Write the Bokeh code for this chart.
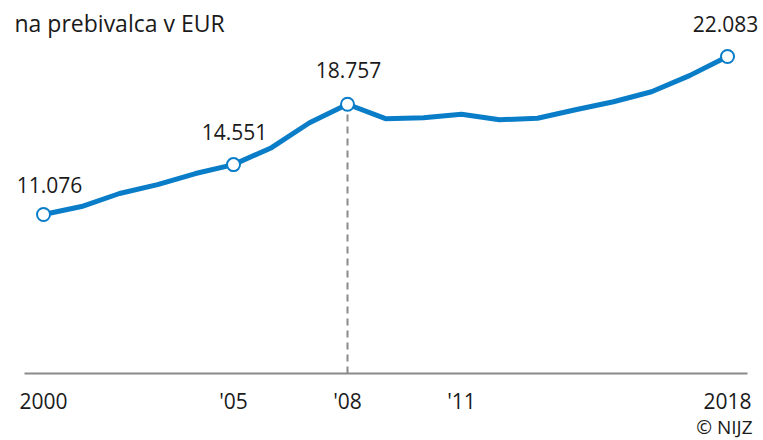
from bokeh.plotting import figure
from bokeh.models import Range1d, FixedTicker, Label, ColumnDataSource
from bokeh.core.properties import value
from bokeh.embed import file_html
from bokeh.resources import INLINE

# ---- data ----
years = list(range(2000, 2019))
gdp_per_capita = [11076, 11630, 12540, 13160, 13930, 14551, 15730, 17470, 18757,
                  17750, 17820, 18060, 17680, 17780, 18370, 18930, 19630, 20750, 22083]
highlight_years = [2000, 2005, 2008, 2018]
tick_years = [2000, 2005, 2008, 2011, 2018]
tick_labels = ["2000", "'05", "'08", "'11", "2018"]
title_text = "na prebivalca v EUR"
source_text = "© NIJZ"
dashed_year = 2008

FONT = "Open Sans"
BLUE = "#0a7dc8"
GRAY = "#8a8a8a"
TXT = "#1a1a1a"

p = figure(width=763, height=440, output_backend="svg", toolbar_location=None,
           x_range=Range1d(1998.868, 2018.947), y_range=Range1d(-4667, 25984),
           y_axis_location=None,
           min_border_left=0, min_border_right=0, min_border_top=0, min_border_bottom=0)
p.outline_line_color = None
p.xgrid.visible = False
p.ygrid.visible = False
p.background_fill_color = "white"
p.border_fill_color = "white"

ax = p.xaxis[0]
ax.fixed_location = 0
ax.ticker = FixedTicker(ticks=tick_years)
ax.major_label_overrides = {y: l for y, l in zip(tick_years, tick_labels)}
ax.bounds = (1999.5, 2018.53)
ax.axis_line_color = GRAY
ax.axis_line_width = 2
ax.major_tick_line_color = None
ax.minor_tick_line_color = None
ax.major_label_standoff = 7
ax.major_label_text_font = FONT
ax.major_label_text_font_size = "21px"
ax.major_label_text_color = TXT

# dashed drop line at 2008
dv = gdp_per_capita[years.index(dashed_year)]
p.segment(x0=[dashed_year], y0=[0], x1=[dashed_year], y1=[dv],
          line_color=GRAY, line_width=2, line_dash="7 5")

# main line
p.line(years, gdp_per_capita, line_color=BLUE, line_width=5, line_join="round")

hv = [gdp_per_capita[years.index(y)] for y in highlight_years]
src = ColumnDataSource(dict(
    x=highlight_years, y=hv,
    lab=[f"{v:,}".replace(",", ".") for v in hv],
    xo=[6, 1, 1, -2], yo=[-30, -33, -34, -32],
))
p.scatter("x", "y", source=src, size=13, fill_color="white", line_color=BLUE, line_width=2)
p.text("x", "y", text="lab", source=src, x_offset="xo", y_offset="yo",
       text_align="center", text_baseline="middle", text_font=value(FONT),
       text_font_size="21px", text_color=TXT)

p.add_layout(Label(x=14, y=418, x_units="screen", y_units="screen", text=title_text,
                   text_font=FONT, text_font_size="23px", text_color=TXT,
                   text_baseline="middle", text_align="left"))
p.add_layout(Label(x=752, y=14, x_units="screen", y_units="screen", text=source_text,
                   text_font=FONT, text_font_size="19px", text_color=TXT,
                   text_baseline="middle", text_align="right"))

open("out.html", "w").write(file_html(p, INLINE))
